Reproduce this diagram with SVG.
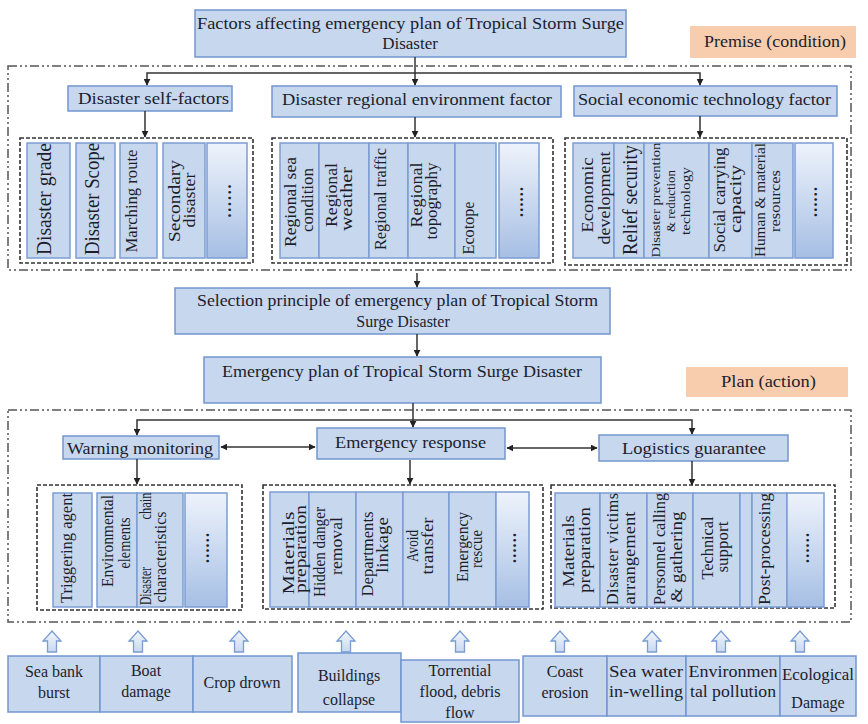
<svg xmlns="http://www.w3.org/2000/svg" width="868" height="724" viewBox="0 0 868 724" font-family="Liberation Serif, serif">
  <defs>
    <marker id="arr" viewBox="0 0 10 10" refX="9" refY="5" markerWidth="7" markerHeight="7" orient="auto-start-reverse" markerUnits="userSpaceOnUse">
      <path d="M0,0 L10,5 L0,10 z" fill="#222"/>
    </marker>
    <linearGradient id="dotsFill" x1="0" y1="0" x2="0" y2="1">
      <stop offset="0" stop-color="#EEF3FB"/>
      <stop offset="1" stop-color="#A6BFE4"/>
    </linearGradient>
    <linearGradient id="upFill" x1="0" y1="0" x2="0" y2="1">
      <stop offset="0" stop-color="#F2F6FC"/>
      <stop offset="1" stop-color="#C9D8EF"/>
    </linearGradient>
    <style>
      text { font-family: "Liberation Serif", serif; fill: #1d1d2c; }
      .box { fill: #C6D7EE; stroke: #7196CF; stroke-width: 1.5; }
      .col { fill: #C6D7EE; stroke: #7C9DD3; stroke-width: 1.5; }
      .dots { fill: url(#dotsFill); stroke: #7C9DD3; stroke-width: 1.5; }
      .tag { fill: #F8CDAE; stroke: none; }
      .outer { fill: none; stroke: #555; stroke-width: 1.5; stroke-dasharray: 9 3 2 3 2 3; }
      .inner { fill: none; stroke: #333; stroke-width: 1.6; stroke-dasharray: 4 2; }
      .ln { fill: none; stroke: #333; stroke-width: 1.5; }
      .up { fill: url(#upFill); stroke: #7A9CD2; stroke-width: 1.3; }
      .t16 { font-size: 16px; }
      .t15 { font-size: 15px; }
      .r { text-anchor: middle; }
      .ell { font-size: 16px; font-weight: bold; text-anchor: middle; }
    </style>
  </defs>

  <!-- frames -->
  <rect class="outer" x="8" y="66" width="843" height="204"/>
  <rect class="outer" x="8" y="410" width="843" height="212"/>

  <!-- top title -->
  <g id="title">
    <rect class="box" x="195" y="10" width="431" height="47"/>
    <text x="197" y="29" textLength="427" lengthAdjust="spacingAndGlyphs" style="font-size:17px">Factors affecting emergency plan of Tropical Storm Surge</text>
    <text x="410" y="49" text-anchor="middle" style="font-size:17px">Disaster</text>
  </g>

  <g id="premise">
    <rect class="tag" x="690" y="26" width="166" height="32"/>
    <text x="704" y="47" textLength="142" lengthAdjust="spacingAndGlyphs" class="t16">Premise (condition)</text>
  </g>

  <!-- factor categories -->
  <g id="self-factors">
    <rect class="box" x="68" y="86" width="164" height="25"/>
    <text class="t16" x="78" y="104" textLength="151" lengthAdjust="spacingAndGlyphs">Disaster self-factors</text>
  </g>
  <g id="regional-factor">
    <rect class="box" x="272" y="86" width="289" height="31"/>
    <text class="t16" x="282" y="105" textLength="270" lengthAdjust="spacingAndGlyphs">Disaster regional environment factor</text>
  </g>
  <g id="social-factor">
    <rect class="box" x="574" y="86" width="263" height="30"/>
    <text class="t16" x="578" y="105" textLength="253" lengthAdjust="spacingAndGlyphs">Social economic technology factor</text>
  </g>

  <!-- self factor items -->
  <g id="self-items">
    <rect class="inner" x="20" y="138" width="233" height="125"/>
    <rect class="col" x="27" y="143" width="43" height="115"/>
    <rect class="col" x="76" y="143" width="39" height="115"/>
    <rect class="col" x="120" y="143" width="37" height="115"/>
    <rect class="col" x="163" y="143" width="42" height="115"/>
    <rect class="dots" x="207" y="143" width="40" height="115"/>
    <text class="r" transform="translate(51,199) rotate(-90)" style="font-size:20px" textLength="112" lengthAdjust="spacingAndGlyphs">Disaster grade</text>
    <text class="r" transform="translate(99,199) rotate(-90)" style="font-size:20px" textLength="112" lengthAdjust="spacingAndGlyphs">Disaster Scope</text>
    <text class="r" transform="translate(137,201) rotate(-90)" style="font-size:16px" textLength="103" lengthAdjust="spacingAndGlyphs">Marching route</text>
    <text class="r t16" transform="translate(180,201) rotate(-90)" textLength="82" lengthAdjust="spacingAndGlyphs">Secondary</text>
    <text class="r t16" transform="translate(195,200) rotate(-90)" textLength="55" lengthAdjust="spacingAndGlyphs">disaster</text>
    <text class="ell" transform="translate(231,201) rotate(-90)" textLength="33" lengthAdjust="spacing">......</text>
  </g>

  <!-- regional environment items -->
  <g id="regional-items">
    <rect class="inner" x="272" y="138" width="281" height="125"/>
    <rect class="col" x="280" y="143" width="39" height="115"/>
    <rect class="col" x="319" y="143" width="50" height="115"/>
    <rect class="col" x="369" y="143" width="39" height="115"/>
    <rect class="col" x="408" y="143" width="47" height="115"/>
    <rect class="col" x="455" y="143" width="41" height="115"/>
    <rect class="dots" x="499" y="143" width="40" height="115"/>
    <text class="r t16" transform="translate(296,202) rotate(-90)" textLength="90" lengthAdjust="spacingAndGlyphs">Regional sea</text>
    <text class="r t16" transform="translate(313,200) rotate(-90)" textLength="64" lengthAdjust="spacingAndGlyphs">condition</text>
    <text class="r t16" transform="translate(337,195) rotate(-90)" textLength="64" lengthAdjust="spacingAndGlyphs">Regional</text>
    <text class="r t16" transform="translate(352,199) rotate(-90)" textLength="64" lengthAdjust="spacingAndGlyphs">weather</text>
    <text class="r t16" transform="translate(386,199) rotate(-90)" textLength="102" lengthAdjust="spacingAndGlyphs">Regional traffic</text>
    <text class="r t16" transform="translate(422,195) rotate(-90)" textLength="65" lengthAdjust="spacingAndGlyphs">Regional</text>
    <text class="r t16" transform="translate(437,201) rotate(-90)" textLength="77" lengthAdjust="spacingAndGlyphs">topography</text>
    <text class="r t16" transform="translate(474,228) rotate(-90)" textLength="53" lengthAdjust="spacingAndGlyphs">Ecotope</text>
    <text class="ell" transform="translate(523,202) rotate(-90)" textLength="30" lengthAdjust="spacing">......</text>
  </g>

  <!-- social economic technology items -->
  <g id="social-items">
    <rect class="inner" x="565" y="138" width="282" height="127"/>
    <rect class="col" x="573" y="143" width="41" height="115"/>
    <rect class="col" x="614" y="143" width="30" height="115"/>
    <rect class="col" x="644" y="143" width="65" height="115"/>
    <rect class="col" x="709" y="143" width="43" height="115"/>
    <rect class="col" x="752" y="143" width="41" height="115"/>
    <rect class="dots" x="795" y="143" width="38" height="115"/>
    <text class="r" transform="translate(593,195) rotate(-90)" style="font-size:17px" textLength="75" lengthAdjust="spacingAndGlyphs">Economic</text>
    <text class="r" transform="translate(610,198) rotate(-90)" style="font-size:17px" textLength="93" lengthAdjust="spacingAndGlyphs">development</text>
    <text class="r" transform="translate(637,200) rotate(-90)" style="font-size:20px" textLength="110" lengthAdjust="spacingAndGlyphs">Relief security</text>
    <text class="r" transform="translate(660,200) rotate(-90)" style="font-size:13px" textLength="115" lengthAdjust="spacingAndGlyphs">Disaster prevention</text>
    <text class="r" transform="translate(675,201) rotate(-90)" style="font-size:13px" textLength="62" lengthAdjust="spacingAndGlyphs">&amp; reduction</text>
    <text class="r" transform="translate(690,201) rotate(-90)" style="font-size:13px" textLength="68" lengthAdjust="spacingAndGlyphs">technology</text>
    <text class="r" transform="translate(725,200) rotate(-90)" style="font-size:17px" textLength="105" lengthAdjust="spacingAndGlyphs">Social carrying</text>
    <text class="r" transform="translate(741,199) rotate(-90)" style="font-size:17px" textLength="68" lengthAdjust="spacingAndGlyphs">capacity</text>
    <text class="r" transform="translate(765,200) rotate(-90)" style="font-size:14px" textLength="114" lengthAdjust="spacingAndGlyphs">Human &amp; material</text>
    <text class="r" transform="translate(780,201) rotate(-90)" style="font-size:14px" textLength="62" lengthAdjust="spacingAndGlyphs">resources</text>
    <text class="ell" transform="translate(817,202) rotate(-90)" textLength="30" lengthAdjust="spacing">......</text>
  </g>

  <!-- selection principle -->
  <g id="selection">
    <rect class="box" x="175" y="288" width="435" height="46"/>
    <text class="t16" x="197" y="306" textLength="401" lengthAdjust="spacingAndGlyphs">Selection principle  of emergency plan of Tropical Storm</text>
    <text class="t16" x="403" y="327" text-anchor="middle">Surge Disaster</text>
  </g>

  <!-- emergency plan -->
  <g id="emergency-plan">
    <rect class="box" x="204" y="357" width="397" height="46"/>
    <text class="t16" x="222" y="377" textLength="360" lengthAdjust="spacingAndGlyphs">Emergency plan of Tropical Storm Surge Disaster</text>
  </g>

  <g id="plan-tag">
    <rect class="tag" x="686" y="367" width="162" height="30"/>
    <text class="t16" x="721" y="387" textLength="95" lengthAdjust="spacingAndGlyphs">Plan (action)</text>
  </g>

  <!-- plan categories -->
  <g id="warning">
    <rect class="box" x="63" y="436" width="156" height="23"/>
    <text class="t16" x="67" y="454" textLength="146" lengthAdjust="spacingAndGlyphs">Warning monitoring</text>
  </g>
  <g id="response">
    <rect class="box" x="317" y="428" width="188" height="31"/>
    <text class="t16" x="335" y="448" textLength="151" lengthAdjust="spacingAndGlyphs">Emergency response</text>
  </g>
  <g id="logistics">
    <rect class="box" x="599" y="435" width="189" height="26"/>
    <text class="t16" x="622" y="454" textLength="144" lengthAdjust="spacingAndGlyphs">Logistics guarantee</text>
  </g>

  <!-- warning items -->
  <g id="warning-items">
    <rect class="inner" x="37" y="485" width="205" height="125"/>
    <rect class="col" x="53" y="493" width="39" height="114"/>
    <rect class="col" x="97" y="493" width="40" height="114"/>
    <rect class="col" x="137" y="493" width="46" height="114"/>
    <rect class="dots" x="185" y="493" width="42" height="114"/>
    <text class="r" style="font-size:17px" transform="translate(72,548) rotate(-90)" textLength="110" lengthAdjust="spacingAndGlyphs">Triggering agent</text>
    <text class="r t16" transform="translate(113,541) rotate(-90)" textLength="92" lengthAdjust="spacingAndGlyphs">Environmental</text>
    <text class="r t16" transform="translate(130,543) rotate(-90)" textLength="51" lengthAdjust="spacingAndGlyphs">elements</text>
    <text class="r t16" transform="translate(151,586) rotate(-90)" textLength="38" lengthAdjust="spacingAndGlyphs">Disaster</text>
    <text class="r t16" transform="translate(151,506) rotate(-90)" textLength="27" lengthAdjust="spacingAndGlyphs">chain</text>
    <text class="r t16" transform="translate(166,557) rotate(-90)" textLength="91" lengthAdjust="spacingAndGlyphs">characteristics</text>
    <text class="ell" transform="translate(209,548) rotate(-90)" textLength="30" lengthAdjust="spacing">......</text>
  </g>

  <!-- response items -->
  <g id="response-items">
    <rect class="inner" x="263" y="485" width="280" height="124"/>
    <rect class="col" x="270" y="492" width="39" height="115"/>
    <rect class="col" x="309" y="492" width="47" height="115"/>
    <rect class="col" x="356" y="492" width="47" height="115"/>
    <rect class="col" x="403" y="492" width="46" height="115"/>
    <rect class="col" x="449" y="492" width="47" height="115"/>
    <rect class="dots" x="496" y="492" width="33" height="115"/>
    <text class="r t16" transform="translate(294,553) rotate(-90)" textLength="83" lengthAdjust="spacingAndGlyphs">Materials</text>
    <text class="r t16" transform="translate(306,549) rotate(-90)" textLength="88" lengthAdjust="spacingAndGlyphs">preparation</text>
    <text class="r t16" transform="translate(325,552) rotate(-90)" textLength="90" lengthAdjust="spacingAndGlyphs">Hidden danger</text>
    <text class="r t16" transform="translate(342,546) rotate(-90)" textLength="58" lengthAdjust="spacingAndGlyphs">removal</text>
    <text class="r t16" transform="translate(373,554) rotate(-90)" textLength="85" lengthAdjust="spacingAndGlyphs">Departments</text>
    <text class="r t16" transform="translate(388,545) rotate(-90)" textLength="56" lengthAdjust="spacingAndGlyphs">linkage</text>
    <text class="r t16" transform="translate(418,546) rotate(-90)" textLength="32" lengthAdjust="spacingAndGlyphs">Avoid</text>
    <text class="r t16" transform="translate(433,546) rotate(-90)" textLength="57" lengthAdjust="spacingAndGlyphs">transfer</text>
    <text class="r t16" transform="translate(468,547) rotate(-90)" textLength="70" lengthAdjust="spacingAndGlyphs">Emergency</text>
    <text class="r t16" transform="translate(482,549) rotate(-90)" textLength="38" lengthAdjust="spacingAndGlyphs">rescue</text>
    <text class="ell" transform="translate(516,548) rotate(-90)" textLength="30" lengthAdjust="spacing">......</text>
  </g>

  <!-- logistics items -->
  <g id="logistics-items">
    <rect class="inner" x="551" y="485" width="284" height="123"/>
    <rect class="col" x="555" y="493" width="45" height="114"/>
    <rect class="col" x="600" y="493" width="47" height="114"/>
    <rect class="col" x="647" y="493" width="46" height="114"/>
    <rect class="col" x="693" y="493" width="47" height="114"/>
    <rect class="col" x="740" y="493" width="12" height="114"/>
    <rect class="col" x="752" y="493" width="35" height="114"/>
    <rect class="dots" x="787" y="493" width="37" height="114"/>
    <text class="r t16" transform="translate(574,551) rotate(-90)" textLength="72" lengthAdjust="spacingAndGlyphs">Materials</text>
    <text class="r t16" transform="translate(590,550) rotate(-90)" textLength="86" lengthAdjust="spacingAndGlyphs">preparation</text>
    <text class="r t16" transform="translate(618,549) rotate(-90)" textLength="112" lengthAdjust="spacing">Disaster  victims</text>
    <text class="r t16" transform="translate(635,558) rotate(-90)" textLength="93" lengthAdjust="spacingAndGlyphs">arrangement</text>
    <text class="r t16" transform="translate(665,549) rotate(-90)" textLength="112" lengthAdjust="spacingAndGlyphs">Personnel calling</text>
    <text class="r t16" transform="translate(682,557) rotate(-90)" textLength="91" lengthAdjust="spacingAndGlyphs">&amp; gathering</text>
    <text class="r t16" transform="translate(713,548) rotate(-90)" textLength="63" lengthAdjust="spacingAndGlyphs">Technical</text>
    <text class="r t16" transform="translate(728,547) rotate(-90)" textLength="51" lengthAdjust="spacingAndGlyphs">support</text>
    <text class="r t16" transform="translate(770,549) rotate(-90)" textLength="112" lengthAdjust="spacingAndGlyphs">Post-processing</text>
    <text class="ell" transform="translate(809,548) rotate(-90)" textLength="30" lengthAdjust="spacing">......</text>
  </g>

  <!-- connectors -->
  <g id="connectors">
    <path class="ln" d="M415,57 V85" marker-end="url(#arr)"/>
    <path class="ln" d="M147,85 V73 H700 V85" marker-start="url(#arr)" marker-end="url(#arr)"/>
    <path class="ln" d="M145,111 V137" marker-end="url(#arr)"/>
    <path class="ln" d="M415,117 V137" marker-end="url(#arr)"/>
    <path class="ln" d="M700,116 V137" marker-end="url(#arr)"/>
    <path class="ln" d="M417,273 V287" marker-end="url(#arr)"/>
    <path class="ln" d="M417,334 V356" marker-end="url(#arr)"/>
    <path class="ln" d="M413,403 V427" marker-end="url(#arr)"/>
    <path class="ln" d="M137,435 V420 H692 V434" marker-start="url(#arr)" marker-end="url(#arr)"/>
    <path class="ln" d="M221,447 H315" marker-start="url(#arr)" marker-end="url(#arr)"/>
    <path class="ln" d="M507,448 H597" marker-start="url(#arr)" marker-end="url(#arr)"/>
    <path class="ln" d="M137,459 V484" marker-end="url(#arr)"/>
    <path class="ln" d="M410,460 V484" marker-end="url(#arr)"/>
    <path class="ln" d="M692,461 V485" marker-end="url(#arr)"/>
  </g>

  <!-- hazard up arrows -->
  <g id="up-arrows">
    <path class="up" d="M52,631 l9,10 h-4.5 v11 h-9 v-11 h-4.5 z"/>
    <path class="up" d="M138,631 l9,10 h-4.5 v11 h-9 v-11 h-4.5 z"/>
    <path class="up" d="M239,631 l9,10 h-4.5 v11 h-9 v-11 h-4.5 z"/>
    <path class="up" d="M346,631 l9,10 h-4.5 v11 h-9 v-11 h-4.5 z"/>
    <path class="up" d="M460,631 l9,10 h-4.5 v11 h-9 v-11 h-4.5 z"/>
    <path class="up" d="M560,631 l9,10 h-4.5 v11 h-9 v-11 h-4.5 z"/>
    <path class="up" d="M652,631 l9,10 h-4.5 v11 h-9 v-11 h-4.5 z"/>
    <path class="up" d="M721,631 l9,10 h-4.5 v11 h-9 v-11 h-4.5 z"/>
    <path class="up" d="M800,631 l9,10 h-4.5 v11 h-9 v-11 h-4.5 z"/>
  </g>

  <!-- hazards -->
  <g id="sea-bank">
    <rect class="box" x="8" y="656" width="92" height="56"/>
    <text class="t16 r" x="54" y="677">Sea bank</text>
    <text class="t16 r" x="54" y="698">burst</text>
  </g>
  <g id="boat">
    <rect class="box" x="100" y="656" width="93" height="56"/>
    <text class="t16 r" x="146" y="676">Boat</text>
    <text class="t16 r" x="146" y="697">damage</text>
  </g>
  <g id="crop">
    <rect class="box" x="193" y="656" width="99" height="56"/>
    <text class="t16 r" x="242" y="688">Crop drown</text>
  </g>
  <g id="buildings">
    <rect class="box" x="298" y="653" width="103" height="59"/>
    <text class="t16 r" x="349" y="681">Buildings</text>
    <text class="t16 r" x="349" y="705">collapse</text>
  </g>
  <g id="torrential">
    <rect class="box" x="401" y="660" width="118" height="62"/>
    <text class="t16 r" x="460" y="676">Torrential</text>
    <text class="t16 r" x="460" y="697">flood, debris</text>
    <text class="t16 r" x="460" y="718">flow</text>
  </g>
  <g id="coast">
    <rect class="box" x="523" y="656" width="84" height="60"/>
    <text class="t16 r" x="565" y="677">Coast</text>
    <text class="t16 r" x="565" y="698">erosion</text>
  </g>
  <g id="sea-water">
    <rect class="box" x="607" y="656" width="79" height="60"/>
    <text class="t16 r" x="646" y="677" textLength="74" lengthAdjust="spacingAndGlyphs">Sea water</text>
    <text class="t16 r" x="646" y="697" textLength="74" lengthAdjust="spacingAndGlyphs">in-welling</text>
  </g>
  <g id="pollution">
    <rect class="box" x="686" y="656" width="94" height="60"/>
    <text class="t16 r" x="733" y="677" textLength="89" lengthAdjust="spacingAndGlyphs">Environmen</text>
    <text class="t16 r" x="733" y="697" textLength="86" lengthAdjust="spacingAndGlyphs">tal pollution</text>
  </g>
  <g id="ecological">
    <rect class="box" x="780" y="656" width="76" height="60"/>
    <text class="t16 r" x="818" y="680" textLength="72" lengthAdjust="spacingAndGlyphs">Ecological</text>
    <text class="t16 r" x="818" y="708">Damage</text>
  </g>
</svg>
